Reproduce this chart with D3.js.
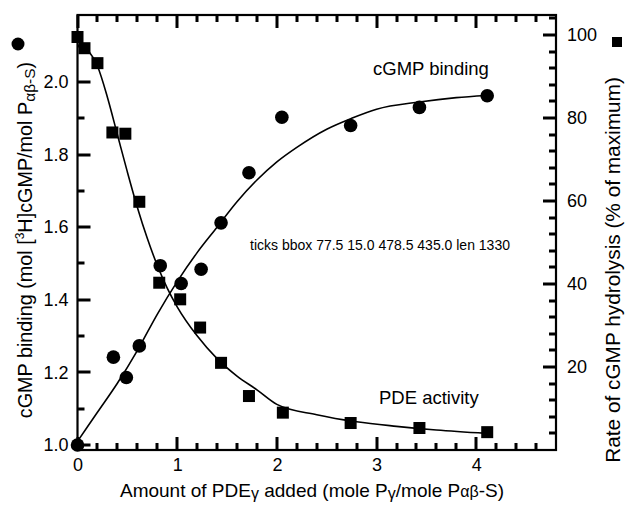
<!DOCTYPE html>
<html>
<head>
<meta charset="utf-8">
<script src="https://cdn.jsdelivr.net/npm/d3@7"></script>
<style>
  body { margin: 0; background: #fff; }
  svg { display: block; font-family: "Liberation Sans", Arial, sans-serif; }
  .tick text { font-size: 18px; fill: #000; }
</style>
</head>
<body>
<script>
var width = 627,
    height = 510;

// PDE activity (squares, right axis, % of maximum)
var pdeX = [0, 0.07, 0.2, 0.35, 0.48, 0.62, 0.82, 1.03, 1.23, 1.44, 1.72, 2.06, 2.74, 3.43, 4.11];
var pdeY = [99.5, 96.8, 93.2, 76.5, 76.2, 59.8, 40.3, 36.3, 29.5, 21, 13, 9, 6.5, 5.3, 4.3];

// cGMP binding (circles, left axis)
var bindX = [0, 0.36, 0.49, 0.62, 0.83, 1.04, 1.24, 1.44, 1.72, 2.05, 2.74, 3.43, 4.11];
var bindY = [1.0, 1.242, 1.186, 1.273, 1.494, 1.445, 1.484, 1.612, 1.750, 1.903, 1.880, 1.930, 1.962];

// fitted curves
var bindFitX = [0, 0.2, 0.4, 0.6, 0.8, 1.0, 1.2, 1.4, 1.6, 1.8, 2.0, 2.2, 2.5, 2.75, 3.0, 3.43, 3.8, 4.1];
var bindFitY = [1.01, 1.09, 1.17, 1.26, 1.36, 1.45, 1.53, 1.60, 1.67, 1.73, 1.78, 1.82, 1.87, 1.90, 1.925, 1.945, 1.957, 1.963];
var pdeFitX = [0, 0.1, 0.2, 0.3, 0.4, 0.5, 0.6, 0.7, 0.8, 0.9, 1.0, 1.2, 1.4, 1.6, 1.8, 2.0, 2.4, 2.8, 3.2, 3.6, 4.1];
var pdeFitY = [98.5, 96.5, 92.5, 85, 76, 67, 58.5, 51, 44.5, 39, 34.5, 27.5, 22, 17.8, 14.5, 11, 8.5, 6.8, 5.7, 4.8, 4.0];

// tick values
var xMajor = [0, 1, 2, 3, 4];
var xMinor = [0.2, 0.4, 0.6, 0.8, 1.2, 1.4, 1.6, 1.8, 2.2, 2.4, 2.6, 2.8, 3.2, 3.4, 3.6, 3.8, 4.2, 4.4, 4.6];
var leftMajor = [1.0, 1.2, 1.4, 1.6, 1.8, 2.0];
var leftMinor = [1.1, 1.3, 1.5, 1.7, 1.9, 2.1];
var rightMajor = [20, 40, 60, 80, 100];
var rightMinor = [4, 8, 12, 16, 24, 28, 32, 36, 44, 48, 52, 56, 64, 68, 72, 76, 84, 88, 92, 96, 104];

var plotL = 77.5, plotR = 556, plotT = 15, plotB = 450;

var x = d3.scaleLinear().domain([0, 4.8]).range([plotL, plotR]);
var yL = d3.scaleLinear().domain([0.9862, 2.1846]).range([plotB, plotT]);
var yR = d3.scaleLinear().domain([0, 104.8]).range([plotB, plotT]);

var svg = d3.select("body").append("svg")
    .attr("width", width)
    .attr("height", height);

// frame
svg.append("rect")
    .attr("x", plotL).attr("y", plotT)
    .attr("width", plotR - plotL).attr("height", plotB - plotT)
    .attr("fill", "none").attr("stroke", "#000").attr("stroke-width", 2.2);

// tick labels
function labelsOnly(g) {
    g.select(".domain").remove();
    g.selectAll(".tick line").remove();
}
svg.append("g").attr("transform", "translate(0," + plotB + ")")
    .call(d3.axisBottom(x).tickValues(xMajor).tickSize(0).tickPadding(8).tickFormat(d3.format("d")))
    .call(labelsOnly);
svg.append("g").attr("transform", "translate(" + plotL + ",0)")
    .call(d3.axisLeft(yL).tickValues(leftMajor).tickSize(0).tickPadding(9).tickFormat(d3.format(".1f")))
    .call(labelsOnly);
svg.append("g").attr("transform", "translate(" + plotR + ",0)")
    .call(d3.axisRight(yR).tickValues(rightMajor).tickSize(0).tickPadding(11).tickFormat(d3.format("d")))
    .call(labelsOnly);

// fitted lines
var bindLine = d3.line()
    .x(function (d) { return x(d[0]); })
    .y(function (d) { return yL(d[1]); })
    .curve(d3.curveMonotoneX);
var pdeLine = d3.line()
    .x(function (d) { return x(d[0]); })
    .y(function (d) { return yR(d[1]); })
    .curve(d3.curveMonotoneX);

svg.append("path")
    .datum(d3.zip(bindFitX, bindFitY))
    .attr("d", bindLine)
    .attr("fill", "none").attr("stroke", "#000").attr("stroke-width", 1.6);
svg.append("path")
    .datum(d3.zip(pdeFitX, pdeFitY))
    .attr("d", pdeLine)
    .attr("fill", "none").attr("stroke", "#000").attr("stroke-width", 1.6);

// markers
svg.selectAll("circle.bind")
    .data(d3.zip(bindX, bindY))
    .enter().append("circle")
    .attr("class", "bind")
    .attr("cx", function (d) { return x(d[0]); })
    .attr("cy", function (d) { return yL(d[1]); })
    .attr("r", 6.8)
    .attr("fill", "#000");

var sq = 12;
svg.selectAll("rect.pde")
    .data(d3.zip(pdeX, pdeY))
    .enter().append("rect")
    .attr("class", "pde")
    .attr("x", function (d) { return x(d[0]) - sq / 2; })
    .attr("y", function (d) { return yR(d[1]) - sq / 2; })
    .attr("width", sq).attr("height", sq)
    .attr("fill", "#000");

// in-plot labels
svg.append("text")
    .attr("x", 373).attr("y", 75)
    .attr("font-size", 18.5)
    .text("cGMP binding");
svg.append("text")
    .attr("x", 379).attr("y", 404)
    .attr("font-size", 18.5)
    .text("PDE activity");

// x title
var xt = svg.append("text")
    .attr("x", 312).attr("y", 497)
    .attr("text-anchor", "middle")
    .attr("font-size", 19);
xt.append("tspan").text("Amount of PDE");
xt.append("tspan").attr("font-size", 16).attr("dy", 2).text("γ");
xt.append("tspan").attr("dy", -2).text(" added (mole P");
xt.append("tspan").attr("font-size", 16).attr("dy", 2).text("γ");
xt.append("tspan").attr("dy", -2).text("/mole P");
xt.append("tspan").attr("font-size", 16).text("αβ");
xt.append("tspan").text("-S)");

// left title
var lt = svg.append("text")
    .attr("transform", "translate(32,240) rotate(-90)")
    .attr("text-anchor", "middle")
    .attr("font-size", 19.8);
lt.append("tspan").text("cGMP binding (mol [");
lt.append("tspan").attr("font-size", 12).attr("dy", -8).text("3");
lt.append("tspan").attr("dy", 8).text("H]cGMP/mol P");
lt.append("tspan").attr("font-size", 15.5).attr("dy", 3).text("αβ-S");
lt.append("tspan").attr("dy", -3).text(")");

svg.append("circle")
    .attr("cx", 18).attr("cy", 44).attr("r", 6.5).attr("fill", "#000");

// right title
svg.append("text")
    .attr("transform", "translate(620,270) rotate(-90)")
    .attr("text-anchor", "middle")
    .attr("font-size", 20.8)
    .text("Rate of cGMP hydrolysis (% of maximum)");

svg.append("rect")
    .attr("x", 612).attr("y", 37).attr("width", 10).attr("height", 10).attr("fill", "#000");

// inward tick marks as one path, drawn last, pixel aligned
var tp = d3.path();
function px(v) { return Math.round(v); }
xMajor.map(function (d) { return [x(d), 13]; }).concat(xMinor.map(function (d) { return [x(d), 7]; }))
    .forEach(function (t) {
        tp.moveTo(px(t[0]), plotB); tp.lineTo(px(t[0]), plotB - t[1]);
        tp.moveTo(px(t[0]), plotT); tp.lineTo(px(t[0]), plotT + t[1]);
    });
leftMajor.map(function (d) { return [yL(d), 13]; }).concat(leftMinor.map(function (d) { return [yL(d), 7]; }))
    .forEach(function (t) { tp.moveTo(plotL, px(t[0])); tp.lineTo(plotL + t[1], px(t[0])); });
rightMajor.map(function (d) { return [yR(d), 13]; }).concat(rightMinor.map(function (d) { return [yR(d), 7]; }))
    .forEach(function (t) { tp.moveTo(plotR, px(t[0])); tp.lineTo(plotR - t[1], px(t[0])); });
var tickPath = svg.append("path")
    .attr("d", tp.toString())
    .attr("fill", "none")
    .attr("stroke", "#000")
    .attr("stroke-width", 3);

// temporary check: where did the tick path land?
var bb = tickPath.node().getBBox();
svg.append("text")
    .attr("x", 250).attr("y", 250)
    .attr("font-size", 14)
    .text("ticks bbox " + [bb.x, bb.y, bb.width, bb.height].map(function (v) { return v.toFixed(1); }).join(" ")
        + " len " + tp.toString().length);
</script>
</body>
</html>
